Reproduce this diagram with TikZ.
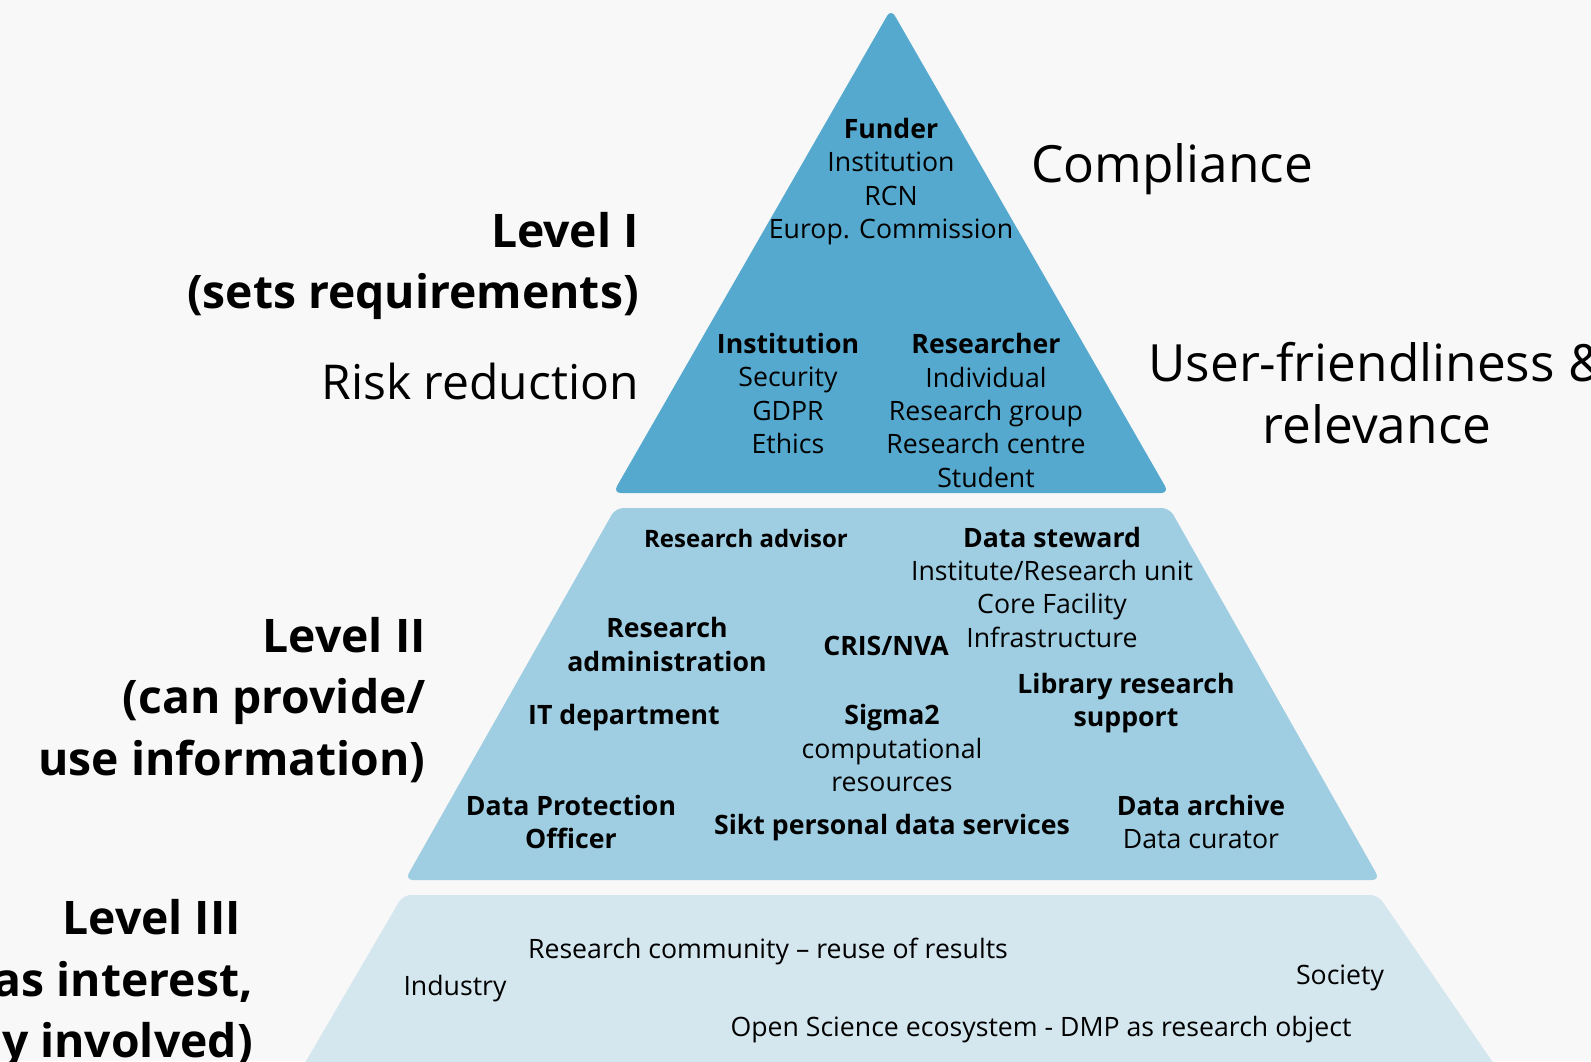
\documentclass[tikz,border=0pt]{standalone}
\usepackage{fontspec}
\setmainfont{Open Sans}
\definecolor{pagebg}{HTML}{F8F8F8}
\definecolor{tierone}{HTML}{56A9CE}
\definecolor{tiertwo}{HTML}{9FCDE1}
\definecolor{tierthree}{HTML}{D4E6EE}
\begin{document}
\begin{tikzpicture}[x=0.75pt, y=-0.75pt,
    txt/.style={align=center, inner sep=0pt, font=\fontsize{20}{25}\selectfont},
    boldtxt/.style={txt, font=\fontsize{20}{25}\selectfont\bfseries},
    bigtxt/.style={inner sep=0pt, font=\fontsize{36}{46}\selectfont},
    sidetxt/.style={inner sep=0pt, font=\fontsize{38.5}{46}\selectfont},
    leveltxt/.style={inner sep=0pt, align=right, anchor=east, font=\fontsize{34.7}{46}\selectfont\bfseries}]
  \useasboundingbox (0,0) rectangle (1591,1061);
  \fill[pagebg] (0,0) rectangle (1591,1061);

  \fill[tierone, rounded corners=6pt] (891,9) -- (1169,493) -- (613,493) -- cycle;
  \fill[tiertwo, rounded corners=6pt] (615.5,508) -- (1169.5,508) -- (1380,880) -- (405,880) -- cycle;
  \fill[tierthree, rounded corners=6pt] (403,895) -- (1378,895) -- (1505,1080) -- (295,1080) -- cycle;

  \node[txt] (funder) at (891,181.5) {\textbf{Funder}\\Institution\\RCN\\Europ. Commission};
  \node[txt] (inst)   at (788,393.5) {\textbf{Institution}\\Security\\GDPR\\Ethics};
  \node[txt] (resr)   at (986,410.5) {\textbf{Researcher}\\Individual\\Research group\\Research centre\\Student};

  \node[sidetxt, anchor=west] (compl) at (1031,169) {Compliance};
  \node[sidetxt, align=center] (usr) at (1377,393) {User-friendliness \&\\relevance};
  \node[leveltxt] (lvlone) at (639,266) {Level I\\(sets requirements)};
  \node[bigtxt, anchor=east] (risk) at (639,381) {Risk reduction};
  \node[leveltxt] (lvltwo) at (426,700) {Level II\\(can provide/\\use information)};
  \node[leveltxt] (lvlthree) at (253,984) {Level III\hspace*{9pt}\\as interest,\\ly involved)};

  \node[boldtxt, font=\fontsize{18}{25}\selectfont\bfseries] (advisor) at (746,538) {Research advisor};
  \node[txt]     (steward) at (1052,587) {\textbf{Data steward}\\Institute/Research unit\\Core Facility\\Infrastructure};
  \node[boldtxt] (admin)   at (667,644.5) {Research\\administration};
  \node[boldtxt] (cris)    at (886,646) {CRIS/NVA};
  \node[boldtxt] (library) at (1126,703) {Library research\\support};
  \node[boldtxt] (itdep)   at (624,718) {IT department};
  \node[txt]     (sigma)   at (892,748) {\textbf{Sigma2}\\computational\\resources};
  \node[boldtxt] (dpo)     at (571,822) {Data Protection\\Officer};
  \node[boldtxt] (sikt)    at (892,828) {Sikt personal data services};
  \node[txt]     (archive) at (1201,822) {\textbf{Data archive}\\Data curator};

  \node[txt] (community)   at (768,951) {Research community – reuse of results};
  \node[txt] (industry)    at (455,989) {Industry};
  \node[txt] (society)     at (1340,978) {Society};
  \node[txt] (openscience) at (1041,1030) {Open Science ecosystem - DMP as research object};
\end{tikzpicture}
\end{document}
